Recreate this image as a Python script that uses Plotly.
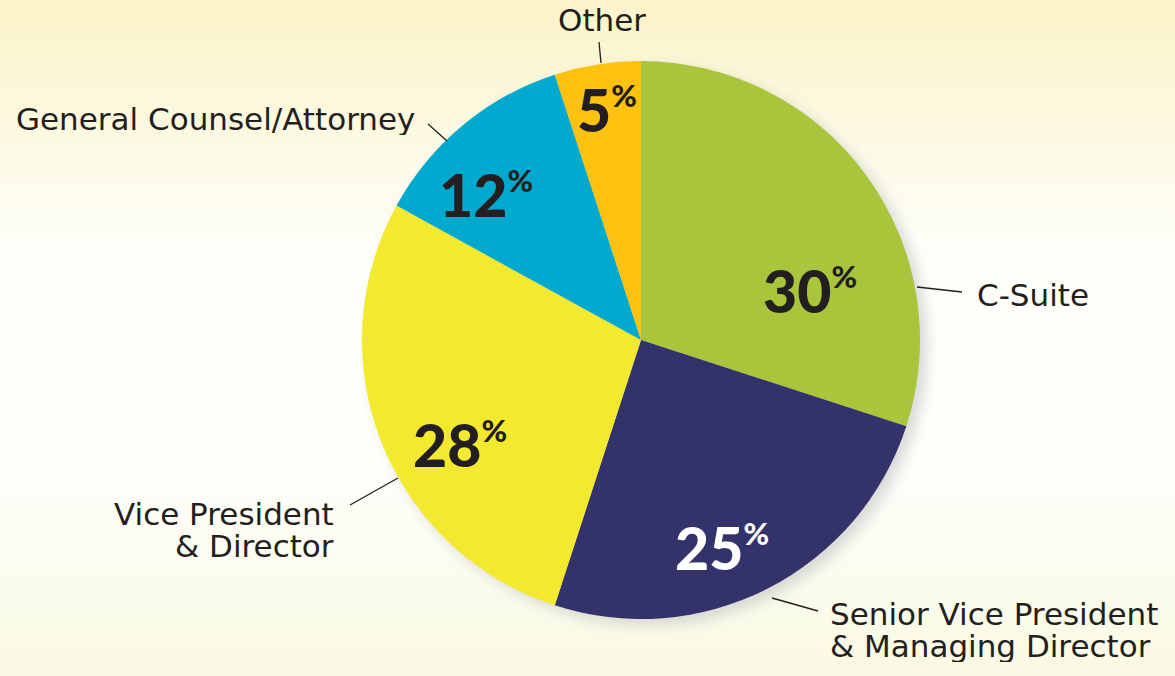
import base64
import plotly.graph_objects as go

# ---- data ----
categories = ["C-Suite", "Senior Vice President<br>& Managing Director", "Vice President<br>& Director",
              "General Counsel/Attorney", "Other"]
values = [30, 25, 28, 12, 5]
colors = ["#a8c53b", "#33326b", "#f3ea2f", "#00a9cd", "#fdc10f"]
value_text_colors = ["#231f20", "#ffffff", "#231f20", "#231f20", "#231f20"]

# ---- layout constants (pixels) ----
W, H = 1175, 676
CX, CY, R = 641, 340, 279
TEXT = "#231f20"
LINE_GAP = 32

# inside value-label centres
value_pos = [(810, 290), (722, 547), (460, 444), (486, 194), (607, 109)]
# outside label anchors: (x, y of first line, xanchor)
label_pos = [(975, 295, "left"), (828, 614, "left"), (336, 514, "right"),
             (417, 119, "right"), (602, 20, "center")]
# leader lines (x0, y0, x1, y1)
leaders = [(917, 287, 962, 292), (772, 598, 818, 611), (350, 505, 398, 478),
           (428, 124, 447, 141), (599, 42, 601, 63)]


def px(x):
    return x / W


def py(y):
    return 1 - y / H


# background gradient + soft pie shadow as an SVG image
svg = f'''<svg xmlns="http://www.w3.org/2000/svg" width="{W}" height="{H}" viewBox="0 0 {W} {H}" preserveAspectRatio="none">
<defs>
<linearGradient id="g" x1="0" y1="0" x2="0" y2="1">
<stop offset="0" stop-color="#fbf4c8"/>
<stop offset="0.38" stop-color="#fefefa"/>
<stop offset="0.7" stop-color="#fefefa"/>
<stop offset="1" stop-color="#f9f9e3"/>
</linearGradient>
<filter id="b" x="-20%" y="-20%" width="140%" height="140%"><feGaussianBlur stdDeviation="7"/></filter>
</defs>
<rect x="0" y="0" width="{W}" height="{H}" fill="url(#g)"/>
<circle cx="{CX + 7}" cy="{CY + 6}" r="{R}" fill="#b9babc" opacity="0.55" filter="url(#b)"/>
</svg>'''
src = "data:image/svg+xml;base64," + base64.b64encode(svg.encode()).decode()

fig = go.Figure()
fig.add_trace(go.Pie(
    labels=categories, values=values, sort=False, direction="clockwise", rotation=0,
    marker=dict(colors=colors, line=dict(width=0)),
    textinfo="none", hoverinfo="skip", showlegend=False,
    domain=dict(x=[px(CX - R), px(CX + R)], y=[py(CY + R), py(CY - R)]),
))

annotations = []
for v, (x, y), c in zip(values, value_pos, value_text_colors):
    annotations.append(dict(
        x=px(x), y=py(y), xref="paper", yref="paper", xanchor="center", yanchor="middle",
        text=f"{v}<sup><span style='font-size:31px'>%</span></sup>", showarrow=False,
        font=dict(family="Lato", size=59, color=c, weight=900),
    ))
for lab, (x, y, xa) in zip(categories, label_pos):
    for i, line in enumerate(lab.split("<br>")):
        annotations.append(dict(
            x=px(x), y=py(y + i * LINE_GAP), xref="paper", yref="paper", xanchor=xa, yanchor="middle",
            text=line, showarrow=False, height=LINE_GAP, valign="middle",
            font=dict(family="DejaVu Sans", size=31, color=TEXT),
        ))

shapes = [dict(type="line", xref="paper", yref="paper", x0=px(a), y0=py(b), x1=px(c), y1=py(d),
               line=dict(color=TEXT, width=1.3)) for a, b, c, d in leaders]

fig.update_layout(
    width=W, height=H, margin=dict(l=0, r=0, t=0, b=0),
    paper_bgcolor="#fefefa", plot_bgcolor="rgba(0,0,0,0)",
    images=[dict(source=src, xref="paper", yref="paper", x=0, y=1, sizex=1, sizey=1,
                 xanchor="left", yanchor="top", sizing="stretch", layer="below")],
    annotations=annotations, shapes=shapes,
)
fig.write_html("out.html")
